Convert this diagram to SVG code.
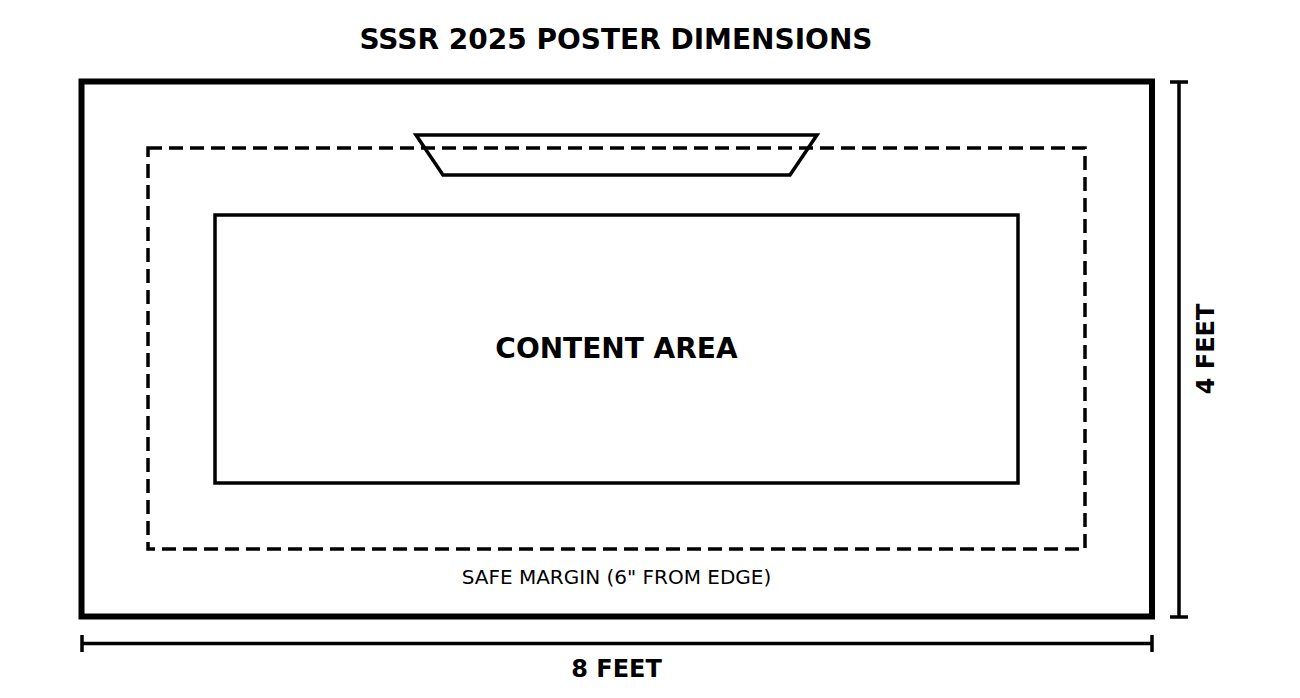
<svg xmlns="http://www.w3.org/2000/svg" width="1300" height="698" viewBox="0 0 1300 698">
<style>
.t{font-family:"DejaVu Sans",sans-serif;fill:#000;text-anchor:middle}
.b{font-weight:bold}
.ln{fill:none;stroke:#000}
</style>
<rect width="1300" height="698" fill="#fff"/>
<text class="t b" x="616" y="48.5" font-size="28">SSSR 2025 POSTER DIMENSIONS</text>
<g id="poster"><rect class="ln" x="81.5" y="81.5" width="1070.5" height="535" stroke-width="6"/></g>
<g id="safe-margin"><rect class="ln" x="148" y="148" width="937" height="401" stroke-width="3.5" stroke-dasharray="14,7"/>
<text class="t" x="616.5" y="583.5" font-size="20">SAFE MARGIN (6" FROM EDGE)</text></g>
<g id="header"><polygon class="ln" points="416,135 817,135 790,175 443,175" stroke-width="3.5"/></g>
<g id="content"><rect class="ln" x="215" y="215" width="803" height="268" stroke-width="3.5"/>
<text class="t b" x="616.5" y="358" font-size="28">CONTENT AREA</text></g>
<g id="connectors">
<path class="ln" d="M1179,82V617M1170,82H1188M1170,617H1188M82,643.5H1152M82,635V652M1152,635V652" stroke-width="3.5"/>
</g>
<text class="t b" x="616.5" y="677" font-size="24">8 FEET</text>
<text class="t b" font-size="24" transform="translate(1214,349) rotate(-90)">4 FEET</text>
</svg>
